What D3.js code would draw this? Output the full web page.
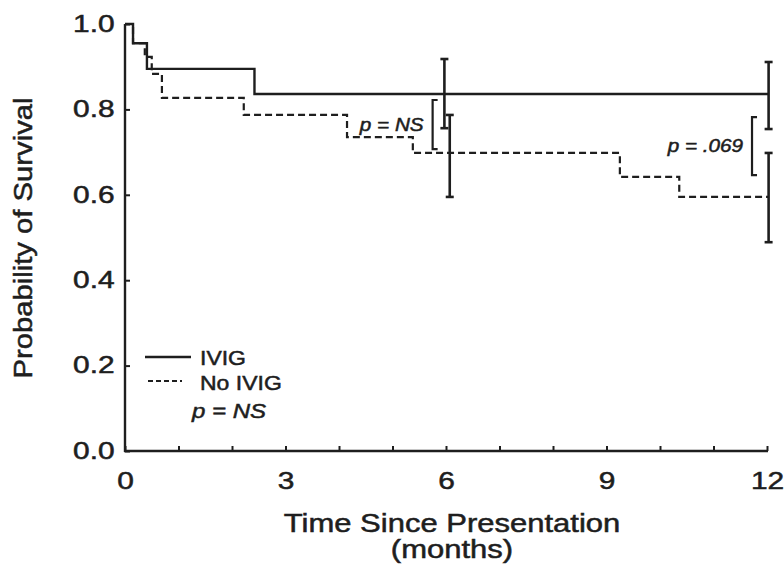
<!DOCTYPE html>
<html>
<head>
<meta charset="utf-8">
<script src="https://cdn.jsdelivr.net/npm/d3@7"></script>
<style>
  body { margin: 0; background: #fff; }
  svg { display: block; }
  text { font-family: "Liberation Sans", Arial, sans-serif; fill: #1e1e1e; stroke: #1e1e1e; stroke-width: 0.5px; }
</style>
</head>
<body>
<svg id="chart" width="784" height="573"></svg>
<script>
// Kaplan-Meier steps
var ivigTime = [0, 0.15, 0.41, 2.42, 12.03];
var ivigSurv = [1.0, 0.955, 0.895, 0.836, 0.836];

var noIvigTime = [0, 0.15, 0.37, 0.5, 0.69, 2.22, 4.15, 5.38, 9.25, 10.36, 12.03];
var noIvigSurv = [1.0, 0.955, 0.923, 0.883, 0.827, 0.787, 0.735, 0.698, 0.642, 0.595, 0.595];

// error bars
var ivigErrTime = [5.97, 12.03];
var ivigErrLow = [0.756, 0.754];
var ivigErrHigh = [0.918, 0.911];
var noIvigErrTime = [6.07, 12.03];
var noIvigErrLow = [0.595, 0.489];
var noIvigErrHigh = [0.787, 0.698];

// comparison brackets
var bracketTime = [5.75, 11.72];
var bracketLow = [0.707, 0.646];
var bracketHigh = [0.822, 0.782];
var bracketLabel = ["p = NS", "p = .069"];

var xTicks = d3.range(0, 13);
var xLabelTicks = [0, 3, 6, 9, 12];
var yTicks = [0, 0.2, 0.4, 0.6, 0.8, 1.0];

var legendNames = ["IVIG", "No IVIG"];

var ink = "#1e1e1e";
var svg = d3.select("#chart");

var x = d3.scaleLinear().domain([0, 12]).range([125, 767]);
var y = d3.scaleLinear().domain([0, 1]).range([451, 24]);

// axes
var xAxis = d3.axisBottom(x)
	.tickValues(xTicks)
	.tickSizeInner(-5)
	.tickSizeOuter(0)
	.tickPadding(22)
	.tickFormat(function(d){ return xLabelTicks.indexOf(d) >= 0 ? d : ""; });

var gx = svg.append("g").attr("transform", "translate(0," + y(0) + ")").call(xAxis);
gx.select(".domain").attr("stroke", ink).attr("stroke-width", 2.4).attr("d", "M" + (x(0) - 1) + ",0H" + (x(12) + 1));
gx.selectAll(".tick line").attr("stroke", ink).attr("stroke-width", 2);
gx.selectAll(".tick text")
	.attr("font-size", 23).attr("fill", ink)
	.attr("transform", "scale(1.3,1)");

var yAxis = d3.axisLeft(y)
	.tickValues(yTicks)
	.tickSizeInner(-5)
	.tickSizeOuter(0)
	.tickPadding(8)
	.tickFormat(d3.format(".1f"));

var gy = svg.append("g").attr("transform", "translate(" + x(0) + ",0)").call(yAxis);
gy.select(".domain").attr("stroke", ink).attr("stroke-width", 2.4).attr("d", "M0," + (y(0) + 1) + "V" + y(1));
gy.selectAll(".tick line").attr("stroke", ink).attr("stroke-width", 2);
gy.selectAll(".tick text")
	.attr("font-size", 23).attr("fill", ink)
	.attr("transform", "scale(1.3,1)");

// helper for stretched text
function label(txt, px, py, size, sx, anchor, italic){
	return svg.append("text")
		.attr("transform", "translate(" + px + "," + py + ") scale(" + sx + ",1)")
		.attr("text-anchor", anchor || "start")
		.attr("font-size", size)
		.attr("font-style", italic ? "italic" : "normal")
		.text(txt);
}

label("Time Since Presentation", 452, 532, 25, 1.24, "middle");
label("(months)", 452, 558, 25, 1.24, "middle");

svg.append("text")
	.attr("transform", "translate(32,238) rotate(-90) scale(1.17,1)")
	.attr("text-anchor", "middle")
	.attr("font-size", 25)
	.text("Probability of Survival");

// curves
var step = d3.line()
	.x(function(d){ return x(d[0]); })
	.y(function(d){ return y(d[1]); })
	.curve(d3.curveStepAfter);

svg.append("path")
	.attr("d", step(d3.zip(noIvigTime, noIvigSurv)))
	.attr("fill", "none").attr("stroke", ink).attr("stroke-width", 2.2)
	.attr("stroke-dasharray", "7,4");

svg.append("path")
	.attr("d", step(d3.zip(ivigTime, ivigSurv)))
	.attr("fill", "none").attr("stroke", ink).attr("stroke-width", 2.4);

// error bars
function errorBars(ts, lo, hi){
	ts.forEach(function(t, i){
		var g = svg.append("g").attr("stroke", ink).attr("stroke-width", 2.6);
		g.append("line").attr("x1", x(t)).attr("x2", x(t)).attr("y1", y(lo[i])).attr("y2", y(hi[i]));
		[lo[i], hi[i]].forEach(function(v){
			g.append("line").attr("x1", x(t) - 4).attr("x2", x(t) + 4).attr("y1", y(v)).attr("y2", y(v));
		});
	});
}
errorBars(ivigErrTime, ivigErrLow, ivigErrHigh);
errorBars(noIvigErrTime, noIvigErrLow, noIvigErrHigh);

// brackets with p values
bracketTime.forEach(function(t, i){
	var bx = x(t), y1 = y(bracketHigh[i]), y2 = y(bracketLow[i]);
	svg.append("path")
		.attr("d", "M" + (bx + 5) + "," + y1 + "H" + bx + "V" + y2 + "H" + (bx + 5))
		.attr("fill", "none").attr("stroke", ink).attr("stroke-width", 2.2);
	label(bracketLabel[i], bx - 9, (y1 + y2) / 2 + 6, 18, 1.15, "end", true);
});

// legend
svg.append("line").attr("x1", 145).attr("x2", 191).attr("y1", 357).attr("y2", 357)
	.attr("stroke", ink).attr("stroke-width", 2.4);
svg.append("line").attr("x1", 148).attr("x2", 182).attr("y1", 381).attr("y2", 381)
	.attr("stroke", ink).attr("stroke-width", 2.2).attr("stroke-dasharray", "5,3");
label(legendNames[0], 200, 365, 20, 1.15);
label(legendNames[1], 200, 390, 20, 1.15);
label("p = NS", 192, 418, 20, 1.2, "start", true);
</script>
</body>
</html>
